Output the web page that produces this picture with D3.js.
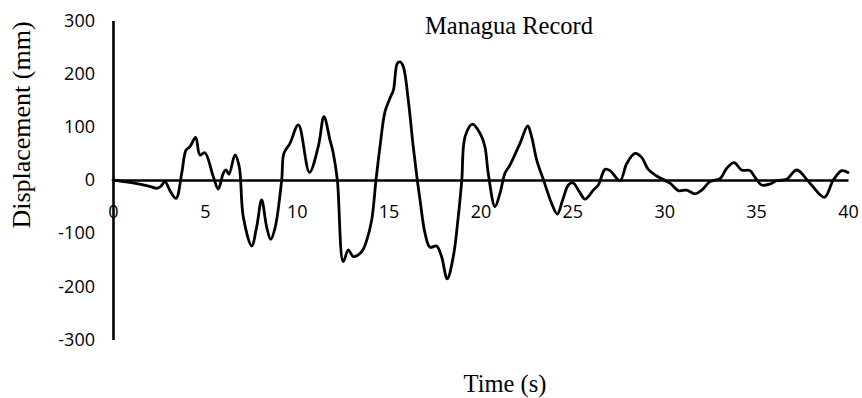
<!DOCTYPE html>
<html>
<head>
<meta charset="utf-8">
<script src="https://cdn.jsdelivr.net/npm/d3@7/dist/d3.min.js"></script>
<style>
  html, body { margin: 0; padding: 0; background: #fff; }
  svg { display: block; }
</style>
</head>
<body>
<div id="chart"></div>
<script>
// Managua record: ground displacement (mm) against time (s)
const timeSec = [
  0, 1.0, 2.0, 2.38, 2.6, 2.83, 3.1, 3.43, 3.74, 3.97, 4.19, 4.5, 4.73, 5.0,
  5.46, 5.73, 6.0, 6.15, 6.31, 6.64, 6.87, 7.09, 7.55, 7.82, 8.09, 8.36, 8.58,
  8.82, 9.18, 9.3, 9.63, 10.09, 10.69, 11.17, 11.48, 11.81, 11.99, 12.21, 12.53,
  12.81, 13.08, 13.53, 13.81, 14.08, 14.31, 14.53, 14.8, 15.07, 15.26, 15.47,
  15.62, 15.8, 16.07, 16.34, 16.56, 16.71, 16.98, 17.25, 17.61, 17.88, 18.19,
  18.52, 18.79, 18.98, 19.16, 19.56, 19.97, 20.24, 20.42, 20.79, 21.06, 21.33,
  21.6, 22.15, 22.57, 22.78, 23.06, 23.46, 23.87, 24.18, 24.47, 24.78, 25.02,
  25.38, 25.69, 26.14, 26.41, 26.78, 27.05, 27.59, 27.96, 28.41, 28.77, 29.13,
  29.59, 30.31, 30.77, 31.22, 31.67, 32.04, 32.49, 33.03, 33.4, 33.8, 34.21,
  34.67, 34.94, 35.3, 35.76, 36.12, 36.66, 37.21, 37.93, 38.71, 39.2, 39.66, 40.0
];
const displacementMm = [
  0, -5, -12, -15.6, -12, -3, -20, -34.5, 12.6, 56, 62.6, 80, 47, 51.4,
  6, -17, 12.6, 19, 11, 47, 25, -69, -124, -88, -37.6, -88, -111.5,
  -90, 0, 50, 69, 103.5, 14.5, 62.6, 119, 75, 50, 0, -153.6,
  -131.6, -144, -135, -113, -75, -1, 62.6, 128, 153.6, 169, 219,
  222, 213, 150, 62.6, 0, -37.6, -100, -126.6, -124, -144, -186,
  -144, -69, -1, 81.5, 105, 88, 62.6, 12.6, -50, -25, 12.6,
  28, 69, 101.6, 81.5, 37.6, -3, -44, -64, -37.6, -9.4, -5,
  -22, -36, -19, -9.4, 20, 17.6, -1.3, 31, 50, 42.6, 20,
  7.5, -6, -20, -19, -26, -19, -3, 2.5, 22, 32.6, 18.8,
  17.6, 5, -9.4, -7.5, -1.3, 1.3, 18.8, -6, -32.6, 0, 17.6, 14
];
const xTicks = [0, 5, 10, 15, 20, 25, 30, 35, 40];
const yTicks = [-300, -200, -100, 0, 100, 200, 300];

const chartTitle = "Managua Record";
const xTitle = "Time (s)";
const yTitle = "Displacement (mm)";

const W = 862, H = 398;
const svg = d3.select("#chart").append("svg")
  .attr("width", W).attr("height", H);

const x = d3.scaleLinear().domain([0, 40]).range([113, 848]);
const y = d3.scaleLinear().domain([-300, 300]).range([339.5, 20.5]);

const tickFont = "'Open Sans', 'Liberation Sans', sans-serif";
const serif = "'Liberation Serif', 'DejaVu Serif', serif";
// plain hyphen for negative numbers
const plain = d => String(d);

// vertical axis
const yAxis = svg.append("g")
  .attr("transform", `translate(${x(0)},0)`)
  .call(d3.axisLeft(y).tickValues(yTicks).tickSize(0).tickPadding(18)
        .tickFormat(plain));
yAxis.select(".domain").attr("stroke", "#000").attr("stroke-width", 2.6);
yAxis.selectAll("text")
  .attr("font-family", tickFont).attr("font-size", 18).attr("fill", "#000");

// horizontal axis through zero
const xAxis = svg.append("g")
  .attr("transform", `translate(0,${y(0)})`)
  .call(d3.axisBottom(x).tickValues(xTicks).tickSize(0).tickPadding(25)
        .tickFormat(plain));
xAxis.select(".domain").attr("stroke", "#000").attr("stroke-width", 2.6);
xAxis.selectAll("text")
  .attr("font-family", tickFont).attr("font-size", 18).attr("fill", "#000");

// displacement trace
const pts = timeSec.map((t, i) => [t, displacementMm[i]]);
const line = d3.line()
  .x(d => x(d[0]))
  .y(d => y(d[1]))
  .curve(d3.curveCatmullRom.alpha(0.5));
svg.append("path")
  .datum(pts)
  .attr("d", line)
  .attr("fill", "none")
  .attr("stroke", "#000")
  .attr("stroke-width", 2.8)
  .attr("stroke-linejoin", "round")
  .attr("stroke-linecap", "round");

// titles
svg.append("text")
  .attr("x", 509).attr("y", 34)
  .attr("text-anchor", "middle")
  .attr("font-family", serif).attr("font-size", 24.5)
  .text(chartTitle);

svg.append("text")
  .attr("x", 505).attr("y", 392)
  .attr("text-anchor", "middle")
  .attr("font-family", serif).attr("font-size", 24.5)
  .text(xTitle);

svg.append("text")
  .attr("transform", "translate(30,125) rotate(-90)")
  .attr("text-anchor", "middle")
  .attr("font-family", serif).attr("font-size", 26)
  .text(yTitle);
</script>
</body>
</html>
